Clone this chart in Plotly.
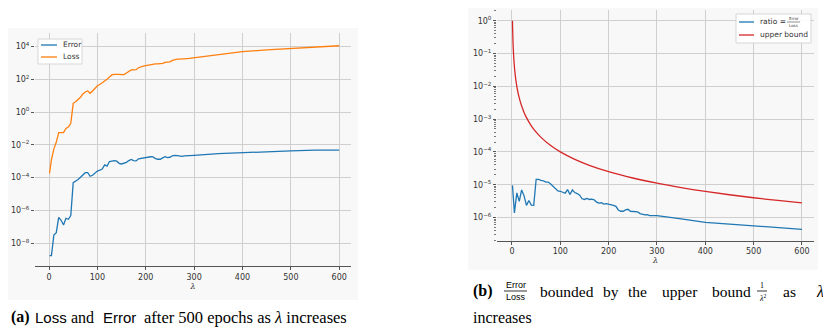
import numpy as np
import plotly.graph_objects as go
from plotly.subplots import make_subplots

# lambda grid of the sweep
lam = [1, 5, 10, 15, 20, 25, 30, 35, 40, 45, 50, 55, 60, 65, 70, 75, 80, 85, 90, 95,
       100, 105, 110, 115, 120, 125, 130, 135, 140, 145, 150, 155, 160, 165, 170, 175,
       180, 185, 190, 195, 200, 205, 210, 215, 220, 225, 230, 235, 240, 245, 250, 255,
       260, 265, 270, 275, 280, 285, 290, 295, 300, 350, 400, 450, 500, 550, 600]

# log10 of Error after 500 epochs
error_log10 = [-8.76, -8.76, -7.5, -7.36, -6.42, -6.6, -6.89, -6.48, -6.54, -6.32,
               -4.31, -4.22, -4.12, -3.98, -3.82, -3.7, -3.7, -3.92, -3.86, -3.74,
               -3.6, -3.55, -3.48, -3.22, -3.3, -3.02, -2.98, -2.97, -3.0, -3.13,
               -3.17, -3.14, -3.07, -2.96, -2.89, -2.96, -2.98, -2.85, -2.82, -2.78,
               -2.76, -2.75, -2.73, -2.74, -2.84, -2.88, -2.88, -2.8, -2.72, -2.78,
               -2.76, -2.67, -2.64, -2.66, -2.69, -2.7, -2.68, -2.68, -2.67, -2.64,
               -2.64, -2.54, -2.47, -2.41, -2.37, -2.33, -2.32]

# log10 of Loss after 500 epochs
loss_log10 = [-3.74, -2.9, -2.25, -1.85, -1.26, -1.26, -1.26, -1.0, -0.92, -0.69,
              0.53, 0.62, 0.75, 0.9, 1.1, 1.22, 1.28, 1.14, 1.28, 1.45,
              1.6, 1.68, 1.78, 1.93, 2.0, 2.14, 2.26, 2.3, 2.32, 2.3,
              2.28, 2.28, 2.38, 2.48, 2.57, 2.57, 2.58, 2.7, 2.77, 2.8,
              2.83, 2.86, 2.9, 2.92, 2.93, 2.93, 2.93, 2.97, 3.03, 3.03,
              3.06, 3.15, 3.19, 3.22, 3.22, 3.22, 3.23, 3.26, 3.27, 3.29,
              3.3, 3.5, 3.68, 3.79, 3.88, 3.97, 4.04]

# upper bound 1/lambda^2
bound_lam = [1, 2, 3, 4, 5, 6, 7, 8, 10, 12, 14, 17, 20, 25, 30, 40, 50, 60, 80, 100,
             130, 160, 200, 250, 300, 350, 400, 450, 500, 550, 600]
bound_val = [1.0, 0.25, 0.1111, 0.0625, 0.04, 0.02778, 0.02041, 0.01563, 0.01,
             0.006944, 0.005102, 0.00346, 0.0025, 0.0016, 0.001111, 6.25e-4, 4e-4,
             2.778e-4, 1.563e-4, 1e-4, 5.917e-5, 3.906e-5, 2.5e-5, 1.6e-5, 1.111e-5,
             8.163e-6, 6.25e-6, 4.938e-6, 4e-6, 3.306e-6, 2.778e-6]

left_ticks = [-8, -6, -4, -2, 0, 2, 4]
right_ticks = [-6, -5, -4, -3, -2, -1, 0]
x_ticks = [0, 100, 200, 300, 400, 500, 600]

error = np.power(10.0, error_log10)
loss = np.power(10.0, loss_log10)
ratio = error / loss

BLUE, ORANGE, RED = "#1f77b4", "#ff7f0e", "#d62728"

# the page puts the figure 8px in from the top-left corner
OX, OY = 8, 8
W, H = 831 - OX, 328 - OY


def px(x):
    return (x - OX) / W


def py(y):
    return 1 - (y - OY) / H


def sup_label(e):
    return "10<sup>" + str(e).replace("-", "\u2212") + "</sup>"


fig = make_subplots(rows=1, cols=2)

fig.add_trace(go.Scatter(x=lam, y=error, mode="lines", name="Error",
                         line=dict(color=BLUE, width=1.3)), row=1, col=1)
fig.add_trace(go.Scatter(x=lam, y=loss, mode="lines", name="Loss",
                         line=dict(color=ORANGE, width=1.3)), row=1, col=1)
fig.add_trace(go.Scatter(x=lam, y=ratio, mode="lines", name="ratio",
                         line=dict(color=BLUE, width=1.3)), row=1, col=2)
fig.add_trace(go.Scatter(x=bound_lam, y=bound_val, mode="lines", name="upper bound",
                         line=dict(color=RED, width=1.3, shape="spline")), row=1, col=2)

tickfont = dict(family="DejaVu Sans", size=8, color="#333")
grid = dict(showgrid=True, gridcolor="#cfcfcf", gridwidth=1, zeroline=False)
xtitle = dict(text="<i>λ</i>", font=dict(family="DejaVu Serif", size=8, color="#333"),
              standoff=2)

fig.update_xaxes(domain=[px(35), px(351)], range=[-29, 624.4], tickvals=x_ticks,
                 showline=True, linecolor="#555", linewidth=1, ticks="outside",
                 ticklen=3, tickcolor="#555", tickfont=tickfont, title=xtitle, **grid,
                 row=1, col=1)
fig.update_yaxes(type="log", domain=[py(266), py(33)],
                 range=[(112 - 266) / 16.4, (112 - 33) / 16.4],
                 tickvals=[10.0 ** e for e in left_ticks],
                 ticktext=[sup_label(e) for e in left_ticks],
                 ticks="outside", ticklen=3, tickcolor="#555", tickfont=tickfont,
                 showline=False, **grid, row=1, col=1)

fig.update_xaxes(domain=[px(497), px(814)], range=[-31, 624.9], tickvals=x_ticks,
                 showline=True, linecolor="#555", linewidth=1, ticks="outside",
                 ticklen=3, tickcolor="#555", tickfont=tickfont, title=xtitle, **grid,
                 row=1, col=2)
fig.update_yaxes(type="log", domain=[py(240.7), py(10)],
                 range=[(20.7 - 240.7) / 32.8, (20.7 - 10) / 32.8],
                 tickvals=[10.0 ** e for e in right_ticks],
                 ticktext=[sup_label(e) for e in right_ticks],
                 ticks="outside", ticklen=3, tickcolor="#555", tickfont=tickfont,
                 minor=dict(ticks="outside", ticklen=2, tickcolor="#777", dtick="D1",
                            showgrid=False),
                 showline=False, **grid, row=1, col=2)

shapes = [
    dict(type="rect", xref="paper", yref="paper", x0=px(8), x1=px(358),
         y0=py(300), y1=py(28), fillcolor="#f8f8f8", line=dict(width=0), layer="below"),
    dict(type="rect", xref="paper", yref="paper", x0=px(468), x1=px(818),
         y0=py(270), y1=py(8), fillcolor="#f8f8f8", line=dict(width=0), layer="below"),
    # legend boxes
    dict(type="rect", xref="paper", yref="paper", x0=px(38), x1=px(82),
         y0=py(64), y1=py(39), fillcolor="rgba(255,255,255,0.9)",
         line=dict(color="#d6d6d6", width=1)),
    dict(type="rect", xref="paper", yref="paper", x0=px(736), x1=px(811),
         y0=py(43), y1=py(14), fillcolor="rgba(255,255,255,0.9)",
         line=dict(color="#d6d6d6", width=1)),
    # legend line samples
    dict(type="line", xref="paper", yref="paper", x0=px(41), x1=px(57),
         y0=py(45), y1=py(45), line=dict(color=BLUE, width=1.3)),
    dict(type="line", xref="paper", yref="paper", x0=px(41), x1=px(57),
         y0=py(57), y1=py(57), line=dict(color=ORANGE, width=1.3)),
    dict(type="line", xref="paper", yref="paper", x0=px(739), x1=px(754),
         y0=py(22), y1=py(22), line=dict(color=BLUE, width=1.3)),
    dict(type="line", xref="paper", yref="paper", x0=px(739), x1=px(754),
         y0=py(35), y1=py(35), line=dict(color=RED, width=1.3)),
    # fraction bars
    dict(type="line", xref="paper", yref="paper", x0=px(787), x1=px(800),
         y0=py(22), y1=py(22), line=dict(color="#444", width=0.6)),
    dict(type="line", xref="paper", yref="paper", x0=px(504), x1=px(527),
         y0=py(291), y1=py(291), line=dict(color="black", width=0.8)),
    dict(type="line", xref="paper", yref="paper", x0=px(757), x1=px(767),
         y0=py(291), y1=py(291), line=dict(color="black", width=0.8)),
]

fig.update_layout(
    width=W, height=H,
    margin=dict(l=0, r=0, t=0, b=0),
    paper_bgcolor="white",
    plot_bgcolor="rgba(0,0,0,0)",
    showlegend=False,
    shapes=shapes,
)


def txt(x, y, text, size=16, family="Liberation Serif", color="black", anchor="left"):
    fig.add_annotation(x=px(x), y=py(y), xref="paper", yref="paper", text=text,
                       showarrow=False, xanchor=anchor, yanchor="middle",
                       font=dict(family=family, size=size, color=color))


leg = "DejaVu Sans"
txt(61, 45, "Error", size=7.5, family=leg, color="#333")
txt(61, 57, "Loss", size=7.5, family=leg, color="#333")
txt(758, 22, "ratio =", size=7.5, family=leg, color="#333")
txt(793.5, 18.5, "Error", size=4, family=leg, color="#333", anchor="center")
txt(793.5, 25.5, "Loss", size=4, family=leg, color="#333", anchor="center")
txt(758, 35, "upper bound", size=7.5, family=leg, color="#333")

sans = "Liberation Sans"
txt(9, 317, "<b>(a)</b>")
txt(33, 317, "Loss", size=15, family=sans)
txt(69, 317, "and")
txt(101, 317, "Error", size=15, family=sans)
txt(142, 317, "after 500 epochs as <i>λ</i> increases", size=16.5)

txt(471, 291, "<b>(b)</b>")
txt(515.5, 285, "Error", size=9, family=sans, anchor="center")
txt(515.5, 297, "Loss", size=9, family=sans, anchor="center")
for x, w in zip([538, 601, 626, 660, 710, 781], ["bounded", "by", "the", "upper", "bound", "as"]):
    txt(x, 291, w, size=15.5)
txt(762, 285, "1", size=8, anchor="center")
txt(762, 297.5, "<i>λ</i><sup>2</sup>", size=8, anchor="center")
txt(826, 291, "<i>λ</i>", anchor="right")
txt(471, 317, "increases")

fig.write_html("out.html")
